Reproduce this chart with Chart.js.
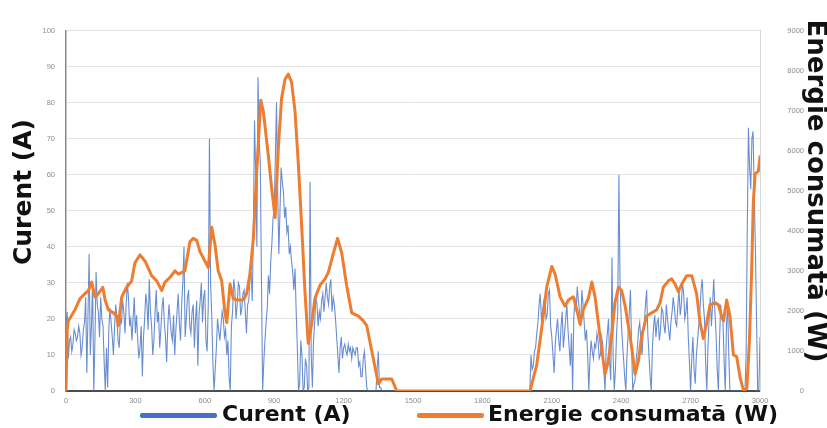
<!DOCTYPE html>
<html>
<head>
<meta charset="utf-8">
<script src="https://cdn.jsdelivr.net/npm/chart.js@4.4.1/dist/chart.umd.min.js"></script>
<style>
  html, body { margin: 0; padding: 0; background: #fff; }
  #wrap { position: relative; width: 827px; height: 428px; overflow: hidden; }
  #overlay { position: absolute; left: 0; top: 0; width: 827px; height: 428px; pointer-events: none; }
  .lg-line { position: absolute; height: 5px; border-radius: 2px; }
  .lg-text, .ax-title { position: absolute; font-family: "DejaVu Sans", sans-serif; font-weight: bold; color: #111; white-space: nowrap; }
  .lg-text { font-size: 22px; line-height: 26px; }
  .ax-title { line-height: 30px; transform-origin: center; }
</style>
</head>
<body>
<div id="wrap">
  <canvas id="chart" width="827" height="428"></canvas>
  <div id="overlay"></div>
</div>
<script>
// the current log is sampled every 5 s
const SAMPLE_STEP = 5;

// Curent (A), 0 .. 3000 s, one row = 100 s
const currentA = [
  18, 22, 9, 14, 15, 11, 13, 17, 16, 14, 15, 18, 16, 10, 12, 17, 19, 26, 5, 21,
  38, 10, 18, 30, 0, 14, 33, 24, 22, 15, 26, 20, 18, 8, 0, 12, 1, 17, 23, 19,
  15, 10, 18, 24, 20, 14, 12, 20, 19, 25, 22, 16, 24, 30, 26, 18, 20, 14, 20, 26,
  16, 21, 14, 9, 12, 18, 4, 15, 20, 27, 24, 17, 31, 22, 18, 10, 14, 22, 28, 19,
  22, 12, 17, 23, 26, 19, 15, 8, 18, 24, 20, 16, 14, 21, 10, 17, 22, 27, 19, 14,
  24, 30, 40, 15, 20, 26, 28, 18, 16, 22, 24, 12, 20, 25, 7, 21, 25, 30, 19, 26,
  28, 14, 11, 24, 70, 30, 21, 8, 0, 6, 12, 20, 17, 14, 18, 22, 20, 15, 17, 10,
  14, 4, 0, 18, 22, 31, 28, 20, 24, 30, 29, 21, 23, 27, 28, 22, 16, 24, 25, 31,
  33, 25, 45, 75, 60, 40, 87, 70, 63, 30, 0, 8, 14, 19, 23, 32, 27, 36, 41, 48,
  50, 65, 80, 55, 38, 50, 62, 58, 55, 48, 51, 44, 46, 38, 40, 36, 33, 28, 34, 22,
  12, 0, 2, 14, 10, 0, 1, 9, 7, 0, 1, 58, 10, 1, 14, 19, 26, 24, 18, 22,
  20, 25, 27, 22, 26, 30, 26, 24, 29, 31, 22, 26, 24, 20, 15, 10, 5, 12, 15, 9,
  12, 13, 11, 10, 13, 11, 12, 9, 12, 11, 10, 12, 12, 7, 8, 4, 4, 9, 11, 6,
  1, 0, 0, 0, 0, 0, 0, 0, 0, 6, 11, 1, 1, 0, 0, 0, 0, 0, 0, 0,
  0, 0, 0, 0, 0, 0, 0, 0, 0, 0, 0, 0, 0, 0, 0, 0, 0, 0, 0, 0,
  0, 0, 0, 0, 0, 0, 0, 0, 0, 0, 0, 0, 0, 0, 0, 0, 0, 0, 0, 0,
  0, 0, 0, 0, 0, 0, 0, 0, 0, 0, 0, 0, 0, 0, 0, 0, 0, 0, 0, 0,
  0, 0, 0, 0, 0, 0, 0, 0, 0, 0, 0, 0, 0, 0, 0, 0, 0, 0, 0, 0,
  0, 0, 0, 0, 0, 0, 0, 0, 0, 0, 0, 0, 0, 0, 0, 0, 0, 0, 0, 0,
  0, 0, 0, 0, 0, 0, 0, 0, 0, 0, 0, 0, 0, 0, 0, 0, 0, 0, 0, 0,
  0, 0, 10, 6, 7, 11, 12, 16, 19, 24, 27, 20, 22, 25, 26, 20, 21, 27, 28, 18,
  15, 10, 5, 13, 17, 20, 14, 11, 18, 22, 12, 16, 20, 24, 17, 12, 7, 16, 0, 20,
  26, 22, 29, 25, 22, 18, 28, 24, 19, 14, 17, 10, 0, 9, 14, 11, 9, 13, 12, 16,
  14, 9, 10, 15, 13, 6, 0, 12, 16, 20, 8, 3, 37, 10, 0, 6, 16, 22, 60, 30,
  20, 14, 9, 4, 0, 10, 16, 22, 28, 12, 0, 2, 3, 9, 12, 17, 19, 14, 10, 16,
  19, 24, 28, 16, 10, 4, 0, 12, 18, 21, 15, 19, 20, 14, 17, 23, 22, 18, 16, 24,
  20, 17, 14, 19, 22, 26, 23, 19, 18, 24, 28, 21, 24, 30, 27, 20, 22, 26, 15, 8,
  0, 9, 15, 6, 2, 10, 14, 18, 22, 28, 31, 24, 20, 8, 0, 12, 20, 26, 18, 24,
  31, 22, 16, 6, 0, 14, 24, 20, 19, 8, 0, 18, 24, 10, 0, 0, 0, 0, 0, 0,
  0, 0, 0, 0, 0, 0, 0, 0, 10, 45, 73, 62, 56, 70, 72, 55, 40, 20, 0, 0,
  15
];

// Energie consumata (W), read at the turning points of the curve
const energyTimes = [
  0, 5, 10, 39, 61, 82, 97, 111, 125, 140, 159, 169, 183, 205, 219, 226, 241, 262, 284, 298,
  320, 342, 370, 392, 414, 428, 450, 471, 486, 514, 536, 550, 565, 579, 601, 615, 630, 644, 658, 673,
  687, 695, 709, 723, 738, 766, 781, 795, 810, 824, 842, 853, 875, 889, 904, 918, 932, 947, 961, 975,
  990, 1004, 1019, 1033, 1047, 1062, 1076, 1098, 1120, 1134, 1156, 1174, 1192, 1213, 1235, 1264, 1285, 1300, 1350, 1365,
  1408, 1430, 2006, 2035, 2056, 2078, 2100, 2114, 2136, 2157, 2172, 2193, 2208, 2222, 2236, 2258, 2273, 2287, 2308, 2330,
  2344, 2359, 2373, 2388, 2402, 2417, 2431, 2446, 2460, 2474, 2489, 2510, 2532, 2554, 2568, 2582, 2604, 2618, 2633, 2647,
  2662, 2683, 2705, 2726, 2741, 2755, 2770, 2784, 2806, 2820, 2834, 2842, 2856, 2870, 2885, 2899, 2914, 2928, 2943, 2954,
  2964, 2971, 2979, 2993, 3000
];
const energyW = [
  0, 1530, 1750, 2030, 2310, 2430, 2510, 2720, 2350, 2430, 2590, 2270, 2030, 1950, 1870, 1630, 2350, 2590, 2750, 3200,
  3400, 3240, 2880, 2750, 2510, 2720, 2840, 3000, 2920, 3000, 3730, 3810, 3760, 3480, 3240, 3080, 4090, 3650, 3000, 2750,
  1950, 1710, 2670, 2310, 2270, 2270, 2430, 2920, 3810, 5420, 7260, 6980, 5860, 5050, 4330, 6100, 7310, 7790, 7910, 7710,
  6980, 5700, 4090, 2480, 1190, 1670, 2310, 2640, 2800, 2960, 3440, 3810, 3440, 2640, 1950, 1870, 1750, 1630, 180, 300,
  300, 0, 0, 660, 1550, 2590, 3110, 2920, 2350, 2120, 2270, 2350, 2030, 1670, 2030, 2310, 2720, 2350, 1390, 420,
  740, 1390, 2200, 2590, 2510, 2120, 1630, 1060, 420, 740, 1390, 1870, 1950, 2030, 2200, 2590, 2750, 2800, 2670, 2480,
  2670, 2880, 2880, 2430, 1710, 1310, 1710, 2150, 2200, 2150, 1870, 1750, 2270, 1870, 900, 860, 340, 20, 60, 1220,
  3000, 4690, 5420, 5490, 5850
];

const xTicks = [0, 300, 600, 900, 1200, 1500, 1800, 2100, 2400, 2700, 3000];

const BLUE = '#4472C4';
const ORANGE = '#ED7D31';

function buildOverlay() {
  const box = document.getElementById('overlay');
  box.innerHTML = `
    <div class="ax-title" style="left:23px; top:192px; font-size:25px; transform:translate(-50%,-50%) rotate(-90deg);">Curent (A)</div>
    <div class="ax-title" style="left:817px; top:191px; font-size:26px; transform:translate(-50%,-50%) rotate(90deg);">Energie consumată (W)</div>
    <div class="lg-line" style="left:140px; top:413px; width:77px; background:${BLUE};"></div>
    <div class="lg-text" style="left:222px; top:401px;">Curent (A)</div>
    <div class="lg-line" style="left:417px; top:413px; width:67px; background:${ORANGE};"></div>
    <div class="lg-text" style="left:488px; top:401px;">Energie consumată (W)</div>
  `;
}

document.addEventListener('DOMContentLoaded', () => {
  const currentPoints = currentA.map((v, i) => ({ x: i * SAMPLE_STEP, y: v }));
  const energyPoints = energyTimes.map((t, i) => ({ x: t, y: energyW[i] }));

  const tickFont = { family: 'Liberation Sans', size: 7.5 };
  const plain = v => String(v);

  new Chart(document.getElementById('chart').getContext('2d'), {
    type: 'line',
    data: {
      datasets: [
        {
          label: 'Curent (A)',
          data: currentPoints,
          yAxisID: 'y',
          borderColor: 'rgba(68, 114, 196, 0.8)',
          backgroundColor: BLUE,
          borderWidth: 1.1,
          pointRadius: 0,
          tension: 0,
          order: 1
        },
        {
          label: 'Energie consumată (W)',
          data: energyPoints,
          yAxisID: 'y1',
          borderColor: ORANGE,
          backgroundColor: ORANGE,
          borderWidth: 3,
          borderJoinStyle: 'round',
          borderCapStyle: 'round',
          pointRadius: 0,
          tension: 0,
          order: 0
        }
      ]
    },
    options: {
      responsive: false,
      animation: false,
      events: [],
      layout: { padding: { top: 18, left: 0, right: 23, bottom: 0 } },
      plugins: {
        legend: { display: false },
        tooltip: { enabled: false }
      },
      scales: {
        x: {
          type: 'linear',
          min: 0,
          max: 3000,
          afterBuildTicks: scale => { scale.ticks = xTicks.map(v => ({ value: v })); },
          afterFit: scale => { scale.height = 37; },
          grid: { display: false, drawTicks: false },
          border: { display: true, color: '#4d4d4d', width: 2 },
          ticks: { color: '#8c8c8c', font: tickFont, padding: 5, maxRotation: 0, autoSkip: false, callback: plain }
        },
        y: {
          position: 'left',
          min: 0,
          max: 100,
          afterFit: scale => { scale.width = 66; },
          grid: { color: '#e4e4e4', lineWidth: 1, drawTicks: false },
          border: { display: true, color: '#8a8a8a', width: 1.5 },
          ticks: { stepSize: 10, color: '#8c8c8c', font: tickFont, padding: 11, callback: plain }
        },
        y1: {
          position: 'right',
          min: 0,
          max: 9000,
          afterFit: scale => { scale.width = 44; },
          grid: { drawOnChartArea: false, drawTicks: false },
          border: { display: true, color: '#d8d8d8', width: 1 },
          ticks: { stepSize: 1000, color: '#8c8c8c', font: tickFont, padding: 26, crossAlign: 'far', callback: plain }
        }
      }
    }
  });

  buildOverlay();
});
</script>
</body>
</html>
